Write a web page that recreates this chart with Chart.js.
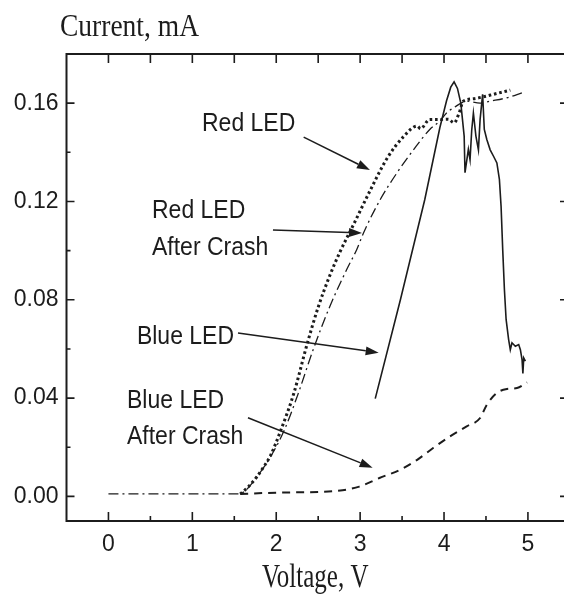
<!DOCTYPE html>
<html>
<head>
<meta charset="utf-8">
<script src="https://cdn.jsdelivr.net/npm/chart.js@4.4.0/dist/chart.umd.min.js"></script>
<style>
html,body{margin:0;padding:0;background:#fff;overflow:hidden;}
canvas{display:block;}
</style>
</head>
<body>
<canvas id="c" width="564" height="599"></canvas>
<script>
// ---- data ----
const xTickValues = [0, 1, 2, 3, 4, 5];
const xTickLabels = ["0", "1", "2", "3", "4", "5"];
const yTickValues = [0, 0.04, 0.08, 0.12, 0.16];
const yTickLabels = ["0.00", "0.04", "0.08", "0.12", "0.16"];

const redV = [1.57, 1.67, 1.77, 1.85, 1.93, 2.05, 2.21, 2.36, 2.50, 2.64, 2.76, 2.92, 3.12, 3.32, 3.52, 3.68, 3.72, 3.83, 3.95, 4.05, 4.12, 4.18, 4.23, 4.35, 4.47, 4.59, 4.79];
const redI = [0.001, 0.004, 0.008, 0.012, 0.0165, 0.0265, 0.042, 0.061, 0.077, 0.090, 0.0995, 0.1105, 0.1245, 0.1375, 0.1465, 0.1507, 0.1496, 0.1534, 0.1534, 0.1535, 0.152, 0.156, 0.1608, 0.1618, 0.1626, 0.1636, 0.1653];

const redCrashV = [0, 0.5, 1.0, 1.55, 1.62, 1.77, 1.93, 2.09, 2.25, 2.44, 2.64, 2.84, 2.96, 3.04, 3.24, 3.44, 3.64, 3.83, 3.95, 4.03, 4.11, 4.27, 4.43, 4.55, 4.75, 4.93];
const redCrashI = [0.001, 0.001, 0.001, 0.001, 0.002, 0.008, 0.016, 0.0265, 0.0407, 0.0597, 0.0774, 0.0923, 0.1005, 0.1072, 0.1208, 0.1317, 0.1412, 0.1493, 0.1527, 0.156, 0.158, 0.1608, 0.160, 0.1608, 0.1622, 0.1642];

const blueV = [3.18, 3.48, 3.77, 3.95, 4.03, 4.08, 4.12, 4.16, 4.20, 4.24, 4.25, 4.29, 4.31, 4.33, 4.35, 4.38, 4.41, 4.43, 4.46, 4.48, 4.51, 4.55, 4.59, 4.63, 4.66, 4.68, 4.70, 4.72, 4.74, 4.77, 4.79, 4.81, 4.85, 4.89, 4.91, 4.93, 4.94, 4.95, 4.97];
const blueI = [0.0398, 0.080, 0.1207, 0.150, 0.161, 0.1665, 0.1687, 0.166, 0.160, 0.1466, 0.1317, 0.1412, 0.137, 0.149, 0.156, 0.1466, 0.141, 0.1534, 0.1636, 0.1493, 0.1452, 0.141, 0.1384, 0.1357, 0.129, 0.118, 0.100, 0.084, 0.072, 0.0638, 0.0597, 0.0625, 0.0611, 0.0618, 0.0597, 0.0557, 0.050, 0.0563, 0.055];

const blueCrashV = [1.57, 2.07, 2.50, 2.79, 2.99, 3.23, 3.48, 3.68, 3.87, 4.07, 4.27, 4.43, 4.51, 4.63, 4.75, 4.87, 4.99];
const blueCrashI = [0.001, 0.0016, 0.0018, 0.0025, 0.004, 0.0075, 0.0109, 0.0149, 0.0197, 0.0244, 0.0285, 0.0319, 0.0373, 0.0421, 0.0437, 0.0441, 0.0464];

// annotations (data coordinates)
const labelLines = [
  {text: "Red LED", x: 1.115, y: 0.1487},
  {text: "Red LED", x: 0.519, y: 0.1133},
  {text: "After Crash", x: 0.519, y: 0.0982},
  {text: "Blue LED", x: 0.339, y: 0.0620},
  {text: "Blue LED", x: 0.221, y: 0.0360},
  {text: "After Crash", x: 0.221, y: 0.0213}
];
const arrows = [
  {x1: 2.327, y1: 0.1462, x2: 3.117, y2: 0.1328},
  {x1: 1.961, y1: 0.1084, x2: 3.022, y2: 0.1072},
  {x1: 1.544, y1: 0.0665, x2: 3.221, y2: 0.0585},
  {x1: 1.663, y1: 0.0320, x2: 3.149, y2: 0.0117}
];

const xMinor = [0.5, 1.5, 2.5, 3.5, 4.5];
const yMinor = [0.02, 0.06, 0.10, 0.14];

function pts(xs, ys) { return xs.map((v, i) => ({x: v, y: ys[i]})); }

const INK = '#1c1c1c';

const decor = {
  id: 'decor',
  afterDraw(chart) {
    const ctx = chart.ctx, a = chart.chartArea;
    const xs = chart.scales.x, ys = chart.scales.y;
    ctx.save();
    ctx.strokeStyle = INK; ctx.fillStyle = INK;
    // frame
    ctx.lineWidth = 2;
    ctx.beginPath();
    ctx.moveTo(a.left, a.top); ctx.lineTo(a.right + 2, a.top);
    ctx.moveTo(a.left, a.top - 1); ctx.lineTo(a.left, a.bottom + 1);
    ctx.moveTo(a.left - 1, a.bottom); ctx.lineTo(a.right + 2, a.bottom);
    ctx.stroke();
    ctx.lineWidth = 1.6;
    ctx.beginPath();
    xTickValues.forEach(v => {
      const px = xs.getPixelForValue(v);
      ctx.moveTo(px, a.bottom); ctx.lineTo(px, a.bottom - 9);
      ctx.moveTo(px, a.top); ctx.lineTo(px, a.top + 9);
    });
    xMinor.forEach(v => {
      const px = xs.getPixelForValue(v);
      ctx.moveTo(px, a.bottom); ctx.lineTo(px, a.bottom - 5);
      ctx.moveTo(px, a.top); ctx.lineTo(px, a.top + 9);
    });
    yTickValues.forEach(v => {
      const py = ys.getPixelForValue(v);
      ctx.moveTo(a.left, py); ctx.lineTo(a.left + 8, py);
      ctx.moveTo(a.right, py); ctx.lineTo(a.right - 4, py);
    });
    yMinor.forEach(v => {
      const py = ys.getPixelForValue(v);
      ctx.moveTo(a.left, py); ctx.lineTo(a.left + 4, py);
    });
    ctx.stroke();

    function txt(s, x, y, font, sy, align) {
      ctx.save();
      ctx.font = font; ctx.textAlign = align || 'left'; ctx.textBaseline = 'alphabetic';
      ctx.translate(x, y); ctx.scale(1, sy);
      ctx.fillText(s, 0, 0);
      ctx.restore();
    }
    txt("Current, mA", 60, 36, '27.5px "Liberation Serif", "Times New Roman", serif', 1.15, 'left');
    txt("Voltage, V", (a.left + a.right) / 2, 587, '25px "Liberation Serif", "Times New Roman", serif', 1.32, 'center');

    labelLines.forEach(l => {
      txt(l.text, xs.getPixelForValue(l.x), ys.getPixelForValue(l.y), '23px "Liberation Sans", Arial, sans-serif', 1.12, 'left');
    });
    arrows.forEach(ar => {
      const x1 = xs.getPixelForValue(ar.x1), y1 = ys.getPixelForValue(ar.y1);
      const x2 = xs.getPixelForValue(ar.x2), y2 = ys.getPixelForValue(ar.y2);
      const ang = Math.atan2(y2 - y1, x2 - x1);
      const L = 13, W = 4.5;
      const bx = x2 - L * Math.cos(ang), by = y2 - L * Math.sin(ang);
      ctx.lineWidth = 1.5;
      ctx.beginPath(); ctx.moveTo(x1, y1); ctx.lineTo(bx, by); ctx.stroke();
      ctx.beginPath();
      ctx.moveTo(x2, y2);
      ctx.lineTo(bx + W * Math.sin(ang), by - W * Math.cos(ang));
      ctx.lineTo(bx - W * Math.sin(ang), by + W * Math.cos(ang));
      ctx.closePath(); ctx.fill();
    });
    ctx.restore();
  }
};

new Chart(document.getElementById('c'), {
  type: 'line',
  data: {
    datasets: [
      {label: 'Red LED', data: pts(redV, redI), borderColor: INK, borderWidth: 3, borderDash: [2.6, 2.8], cubicInterpolationMode: 'monotone', pointRadius: 0, fill: false},
      {label: 'Red LED After Crash', data: pts(redCrashV, redCrashI), borderColor: INK, borderWidth: 1.3, borderDash: [10, 4, 2, 4], cubicInterpolationMode: 'monotone', pointRadius: 0, fill: false},
      {label: 'Blue LED', data: pts(blueV, blueI), borderColor: INK, borderWidth: 1.6, tension: 0, pointRadius: 0, fill: false},
      {label: 'Blue LED After Crash', data: pts(blueCrashV, blueCrashI), borderColor: INK, borderWidth: 2, borderDash: [8, 6], cubicInterpolationMode: 'monotone', pointRadius: 0, fill: false}
    ]
  },
  options: {
    responsive: false,
    animation: false,
    layout: {padding: {top: 54, left: 0, right: 0, bottom: 0}},
    plugins: {legend: {display: false}, tooltip: {enabled: false}, title: {display: false}},
    scales: {
      x: {
        type: 'linear', min: -0.5, max: 5.43,
        afterBuildTicks: s => { s.ticks = xTickValues.map(v => ({value: v})); },
        afterFit: s => { s.height = 78; },
        grid: {display: false, drawTicks: false},
        border: {display: false},
        ticks: {autoSkip: false, maxRotation: 0, padding: 10, color: INK,
          font: {family: '"Liberation Sans", Arial, sans-serif', size: 23},
          callback: (v, i) => xTickLabels[i]}
      },
      y: {
        type: 'linear', min: -0.01, max: 0.18,
        afterBuildTicks: s => { s.ticks = yTickValues.map(v => ({value: v})); },
        afterFit: s => { s.width = 66.5; },
        grid: {display: false, drawTicks: false},
        border: {display: false},
        ticks: {autoSkip: false, padding: 8, color: INK,
          font: {family: '"Liberation Sans", Arial, sans-serif', size: 23},
          callback: (v, i) => yTickLabels[i]}
      }
    }
  },
  plugins: [decor]
});
</script>
</body>
</html>
